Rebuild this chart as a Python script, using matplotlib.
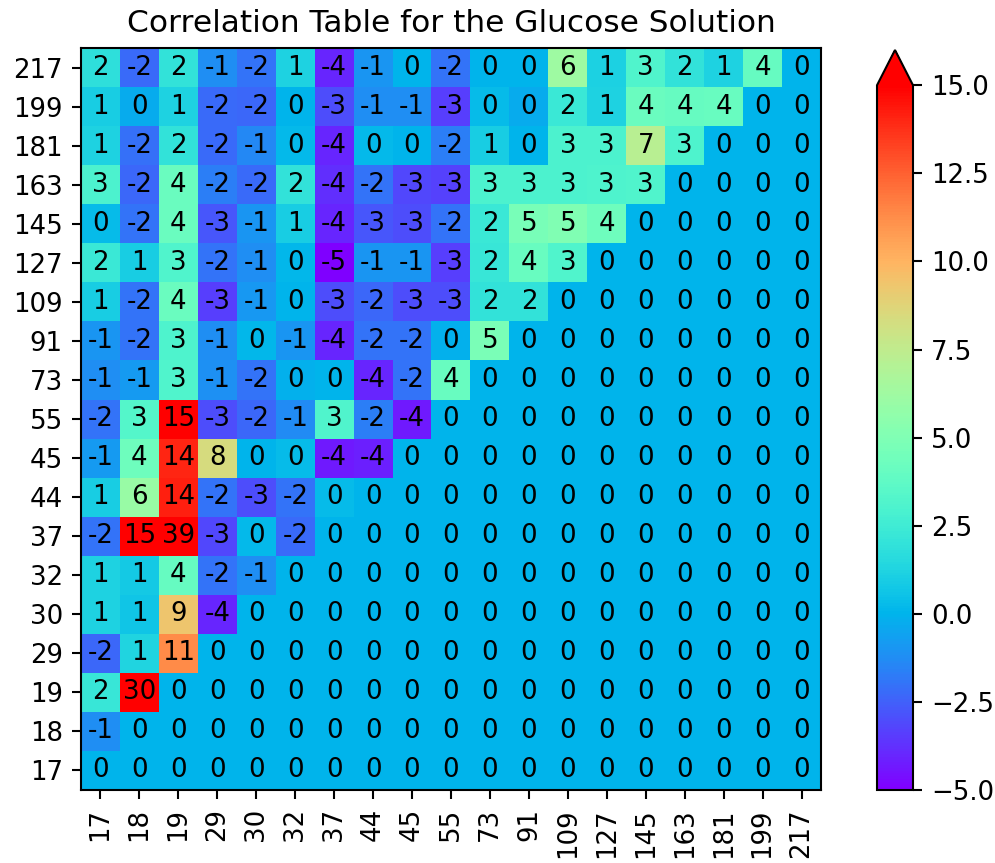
import matplotlib
matplotlib.use("Agg")
import matplotlib.pyplot as plt
import numpy as np

# concentration labels (same for both axes)
labels = [17, 18, 19, 29, 30, 32, 37, 44, 45, 55, 73, 91, 109, 127, 145, 163, 181, 199, 217]

# rows as seen in the picture, top (217) to bottom (17)
row_217 = [1.8, -2.2, 2.0, -1.2, -2.0, 1.2, -4.0, -1.0, 0.0, -2.0, 0.0, 0.0, 6.2, 1.1, 3.2, 2.0, 1.2, 4.0, 0]
row_199 = [1.0, -0.3, 1.2, -2.2, -2.3, 0.0, -3.0, -1.2, -1.2, -3.4, 0.3, -0.3, 2.3, 1.2, 4.2, 4.0, 4.1, 0, 0]
row_181 = [1.2, -2.1, 2.0, -2.2, -1.4, 0.2, -4.0, 0.2, 0.0, -1.7, 1.0, 0.0, 3.0, 3.0, 7.2, 3.1, 0, 0, 0]
row_163 = [3.0, -2.3, 4.2, -1.7, -2.2, 2.0, -3.8, -2.0, -3.2, -3.3, 3.0, 3.0, 3.0, 3.1, 3.2, 0, 0, 0, 0]
row_145 = [0.3, -2.0, 4.2, -2.8, -1.0, 1.0, -4.0, -2.8, -3.0, -2.0, 2.3, 4.7, 5.0, 4.3, 0, 0, 0, 0, 0]
row_127 = [2.3, 1.0, 3.2, -2.0, -1.2, 0.1, -5.0, -1.0, -1.0, -3.4, 2.2, 4.1, 3.2, 0, 0, 0, 0, 0, 0]
row_109 = [1.0, -2.0, 4.2, -3.4, -0.9, 0.0, -3.0, -2.3, -3.0, -3.0, 2.0, 2.0, 0, 0, 0, 0, 0, 0, 0]
row_91 = [-1.0, -2.0, 3.1, -1.2, 0.1, -1.0, -4.0, -2.0, -2.0, -0.1, 4.8, 0, 0, 0, 0, 0, 0, 0, 0]
row_73 = [-1.2, -0.8, 3.2, -1.1, -2.0, -0.1, 0.0, -4.0, -2.0, 4.1, 0, 0, 0, 0, 0, 0, 0, 0, 0]
row_55 = [-2.0, 3.3, 15.0, -3.0, -2.3, -1.3, 3.2, -1.7, -4.3, 0, 0, 0, 0, 0, 0, 0, 0, 0, 0]
row_45 = [-0.8, 4.3, 14.0, 8.4, 0.0, 0.3, -4.3, -4.2, 0, 0, 0, 0, 0, 0, 0, 0, 0, 0, 0]
row_44 = [1.0, 6.0, 14.2, -2.0, -3.0, -2.0, 0.3, 0, 0, 0, 0, 0, 0, 0, 0, 0, 0, 0, 0]
row_37 = [-2.0, 15.0, 39.0, -3.2, 0.2, -2.2, 0, 0, 0, 0, 0, 0, 0, 0, 0, 0, 0, 0, 0]
row_32 = [1.2, 0.8, 4.0, -2.0, -1.2, 0, 0, 0, 0, 0, 0, 0, 0, 0, 0, 0, 0, 0, 0]
row_30 = [1.2, 0.7, 9.3, -4.0, 0, 0, 0, 0, 0, 0, 0, 0, 0, 0, 0, 0, 0, 0, 0]
row_29 = [-2.3, 1.3, 11.3, 0, 0, 0, 0, 0, 0, 0, 0, 0, 0, 0, 0, 0, 0, 0, 0]
row_19 = [2.2, 30.0, 0, 0, 0, 0, 0, 0, 0, 0, 0, 0, 0, 0, 0, 0, 0, 0, 0]
row_18 = [-1.2, 0, 0, 0, 0, 0, 0, 0, 0, 0, 0, 0, 0, 0, 0, 0, 0, 0, 0]
row_17 = [0] * 19

# bottom to top so row index matches labels with origin='lower'
table = np.array([row_17, row_18, row_19, row_29, row_30, row_32, row_37, row_44, row_45,
                  row_55, row_73, row_91, row_109, row_127, row_145, row_163, row_181,
                  row_199, row_217], dtype=float)

DPI = 187.5
fig = plt.figure(figsize=(995 / DPI, 863 / DPI), dpi=DPI)
ax = fig.add_axes([81 / 995, 73 / 863, 740 / 995, 742 / 863])
im = ax.imshow(table, cmap='rainbow', vmin=-5, vmax=15, origin='lower', aspect='auto')

n = len(labels)
for i in range(n):
    for j in range(n):
        ax.text(j, i, str(int(round(table[i, j]))), ha='center', va='center',
                color='black', fontsize=10)

ax.set_xticks(range(n))
ax.set_xticklabels(labels, rotation=90)
ax.set_yticks(range(n))
ax.set_yticklabels(labels)
ax.set_title("Correlation Table for the Glucose Solution", fontsize=12)

cax = fig.add_axes([877 / 995, 73 / 863, 36 / 995, 740 / 863])
fig.colorbar(im, cax=cax, extend='max')

plt.savefig("out.png", dpi=DPI)
